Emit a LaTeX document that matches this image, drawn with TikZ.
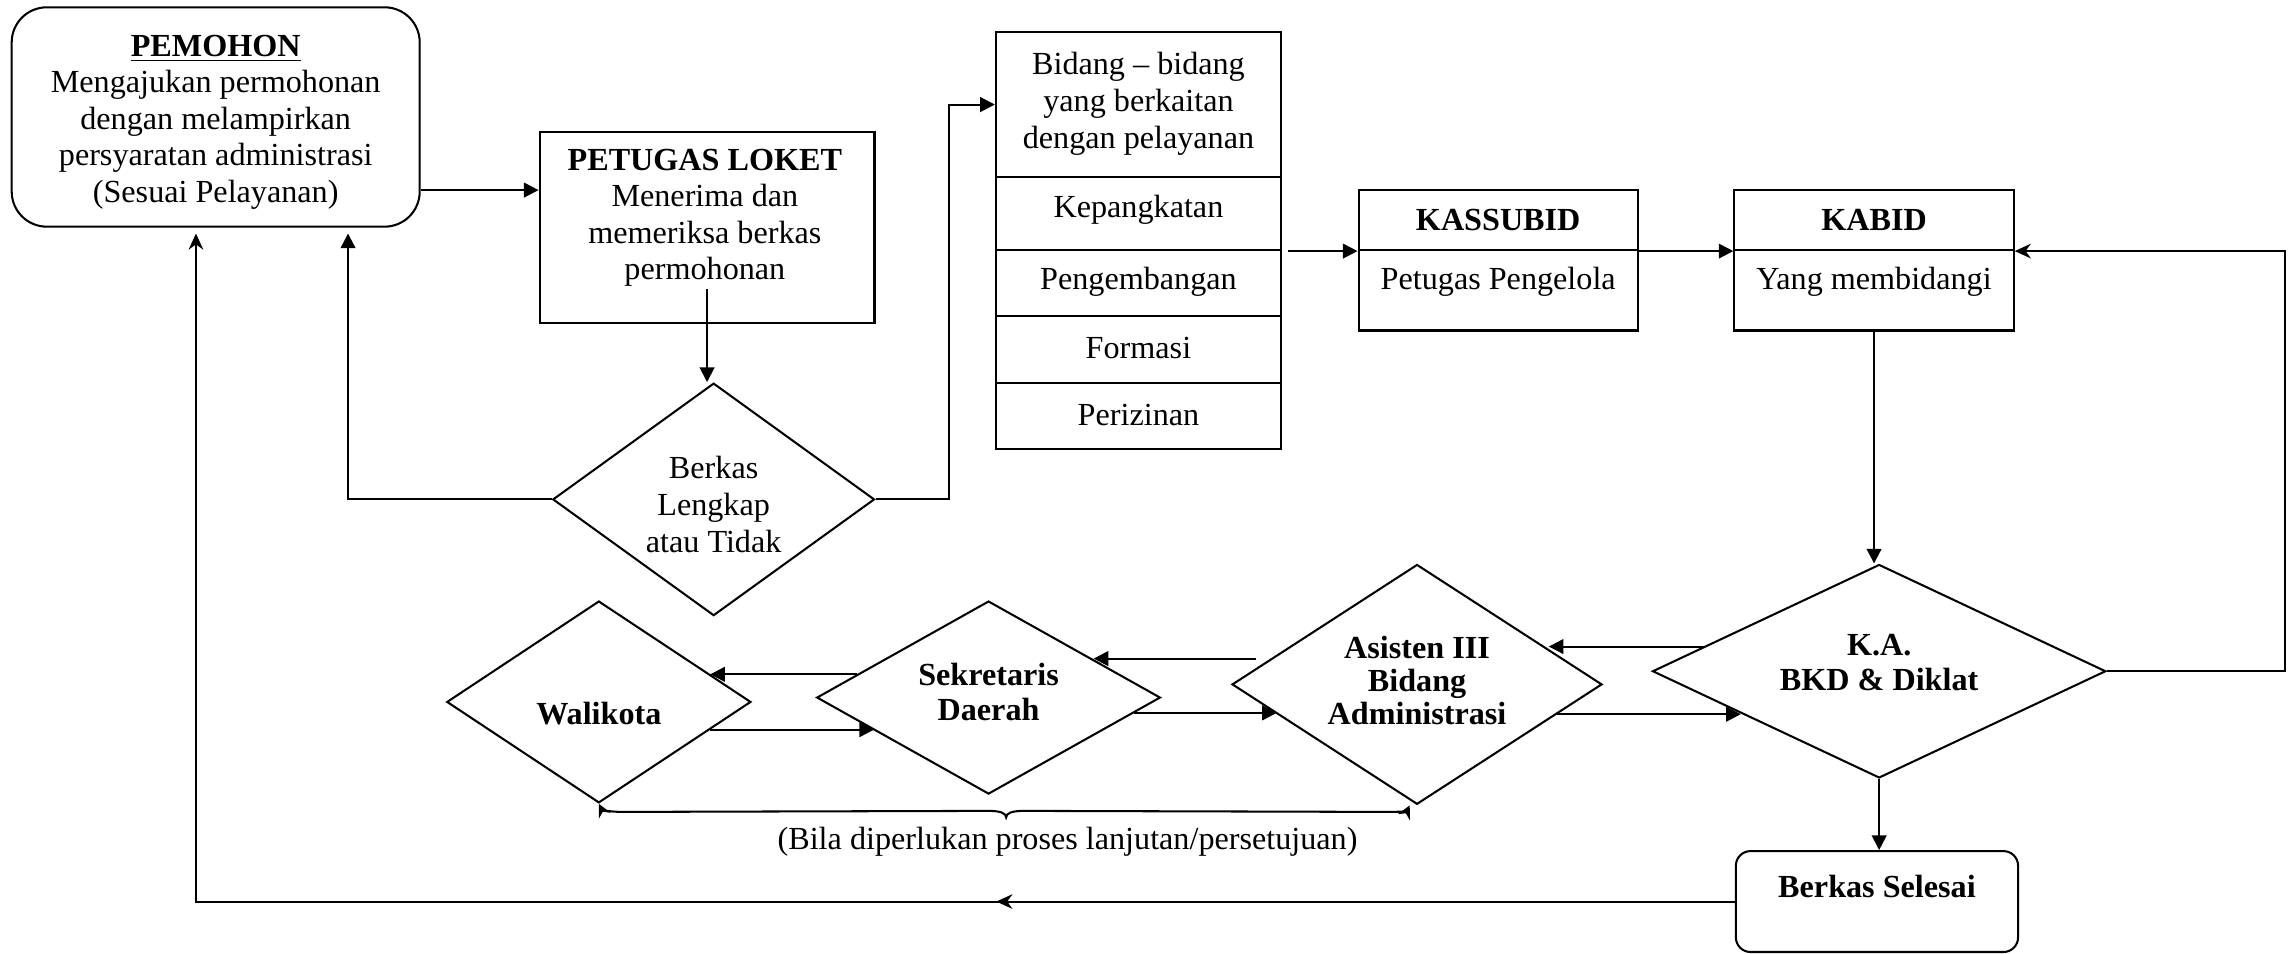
\documentclass[tikz,border=0pt]{standalone}
\usepackage{fontspec}
\setmainfont{Liberation Serif}
\usetikzlibrary{arrows.meta,shapes.geometric,calc,decorations.markings}
\begin{document}
\begin{tikzpicture}[x=0.5pt,y=-0.5pt,
  line width=0.7pt,
  txt/.style={align=center,font=\fontsize{11pt}{12.5pt}\selectfont,inner sep=0pt},
  shp/.style={draw,line width=0.7pt,inner sep=0pt,font=\fontsize{11pt}{12.5pt}\selectfont},
  boxs/.style={shp,rectangle},
  rbox/.style={shp,rectangle,rounded corners=#1},
  dia/.style={shp,diamond},
  rowbox/.style={boxs,minimum width=97.5pt},
  arr/.style={-{Triangle[length=5pt,width=5pt]}},
  stl/.style={-{Stealth[length=5.5pt,width=5pt,inset=1.8pt]}},
]
\fill[white] (0,0) rectangle (1568,652);
\useasboundingbox (0,0) rectangle (1568,652);

% ---------- shapes ----------
\node[rbox=12pt,minimum width=139.5pt,minimum height=75pt] (pemohon) at (147.5,80) {};
\node[txt] (pemtxt) at (147.5,83.5) {\underline{\textbf{PEMOHON}}\\Mengajukan permohonan\\dengan melampirkan\\persyaratan administrasi\\(Sesuai Pelayanan)};

\node[boxs,minimum width=114.5pt,minimum height=65.5pt] (loket) at (483.5,155.5) {};
\node[txt] (loktxt) at (482,149) {\textbf{PETUGAS LOKET}\\Menerima dan\\memeriksa berkas\\permohonan};

\node[dia,minimum width=110pt,minimum height=79.5pt] (berkas) at (488,341.5) {};
\node[txt] (berkastxt) at (488,345) {Berkas\\Lengkap\\atau Tidak};

\node[rowbox,minimum height=49.5pt] (bid0) at (778.5,71.5) {};
\node[txt] (bidtxt) at (778.5,71) {Bidang \textendash{} bidang\\yang berkaitan\\dengan pelayanan};
\node[rowbox,minimum height=25pt] (kep) at (778.5,146) {};
\node[txt] (keptxt) at (778.5,143.5) {Kepangkatan};
\node[rowbox,minimum height=22.5pt] (peng) at (778.5,193.5) {};
\node[txt] (pengtxt) at (778.5,193) {Pengembangan};
\node[rowbox,minimum height=23pt] (form) at (778.5,239) {};
\node[txt] (formtxt) at (778.5,238) {Formasi};
\node[rowbox,minimum height=22.5pt] (periz) at (778.5,284.5) {};
\node[txt] (periztxt) at (778.5,283.5) {Perizinan};

\node[boxs,minimum width=95.5pt,minimum height=20.5pt] (kstop) at (1024.5,150.5) {\textbf{KASSUBID}};
\node[boxs,minimum width=95.5pt,minimum height=27.5pt] (ksbot) at (1024.5,198.5) {};
\node[txt] (kstxt) at (1024.5,193) {Petugas Pengelola};

\node[boxs,minimum width=95.5pt,minimum height=20.5pt] (kbtop) at (1281.5,150.5) {\textbf{KABID}};
\node[boxs,minimum width=95.5pt,minimum height=27.5pt] (kbbot) at (1281.5,198.5) {};
\node[txt] (kbtxt) at (1281.5,193) {Yang membidangi};

\node[dia,minimum width=155pt,minimum height=73pt] (ka) at (1285,459) {};
\node[txt,font=\bfseries\fontsize{11pt}{12pt}\selectfont] (katxt) at (1285,453) {K.A.\\BKD \& Diklat};

\node[dia,minimum width=126.5pt,minimum height=82pt] (asisten) at (969,468) {};
\node[txt,font=\bfseries\fontsize{11pt}{11.25pt}\selectfont] (asistxt) at (969,465.5) {Asisten III\\Bidang\\Administrasi};

\node[dia,minimum width=117.5pt,minimum height=66pt] (sek) at (676,477) {};
\node[txt,font=\bfseries\fontsize{11pt}{12pt}\selectfont] (sektxt) at (676,473.5) {Sekretaris\\Daerah};

\node[dia,minimum width=104pt,minimum height=69pt] (wali) at (409.5,480) {};
\node[txt,font=\bfseries\fontsize{11pt}{12pt}\selectfont] (walitxt) at (409.5,488) {Walikota};

\node[rbox=5pt,minimum width=96.5pt,minimum height=34.5pt] (selesai) at (1283.5,616.5) {};
\node[txt,font=\bfseries\fontsize{11pt}{12pt}\selectfont] (seltxt) at (1283.5,606.5) {Berkas Selesai};

\node[txt] (note) at (730,575.5) {(Bila diperlukan proses lanjutan/persetujuan)};

% ---------- connectors ----------
\coordinate (lokstart) at ([yshift=12pt]loket.south);
\draw[arr] ([yshift=-25pt]pemohon.east) -- ([yshift=-25pt]pemohon.east -| loket.west);
\draw[arr] (lokstart) -- (lokstart |- berkas.north);
\draw[arr,shorten >=2pt] (berkas.west) -| ([xshift=45.25pt]pemohon.south);
\draw[arr] (berkas.east) -- ++(50,0) |- (bid0.west);
\draw[arr] ([xshift=2pt]kep.south east) -- (kstop.south west);
\draw[arr] (kstop.south east) -- (kbtop.south west);
\draw[arr] (kbbot.south) -- (kbbot.south |- ka.north);
\draw[stl] (ka.east) -- ++(122,0) |- (kbtop.south east);
\draw[arr] (ka.south) -- (ka.south |- selesai.north);
\draw[stl,shorten >=2pt,postaction={decorate},
  decoration={markings,mark=at position 252.5pt with {\arrow{Stealth[length=5.5pt,width=5pt,inset=1.8pt]}}}]
  (selesai.west) -| ([xshift=-6.75pt]pemohon.south);

% diamond chain
\draw[arr] (ka.172) -- (ka.172 -| asisten.15);
\draw[arr] (asisten.-12) -- (asisten.-12 -| ka.197);
\draw[arr,shorten <=5pt] (asisten.170) -- (asisten.170 -| sek.20);
\draw[arr] (sek.-6) -- (sek.-6 -| asisten.192);
\draw[arr] (sek.170) -- (sek.170 -| wali.14);
\draw[arr] (wali.-14) -- (wali.-14 -| sek.196);

% brace
\coordinate (bmid) at (688,559);
\draw[{Stealth[length=4.5pt,width=4.5pt,inset=1.5pt]}-{Stealth[length=4.5pt,width=4.5pt,inset=1.5pt]}]
  (wali.south) .. controls +(2,4) and +(-8,0) .. ($(wali.south)+(16,5.5)$)
  -- ($(bmid)+(-12,-4.5)$) .. controls +(8,0) and +(0,-3) .. (bmid)
  .. controls +(0,-3) and +(-8,0) .. ($(bmid)+(12,-4.5)$)
  -- ($(asisten.south)+(-21,4.5)$) .. controls +(8,0) and +(-2,4) .. ($(asisten.south)+(-5,0)$);
\end{tikzpicture}
\end{document}
